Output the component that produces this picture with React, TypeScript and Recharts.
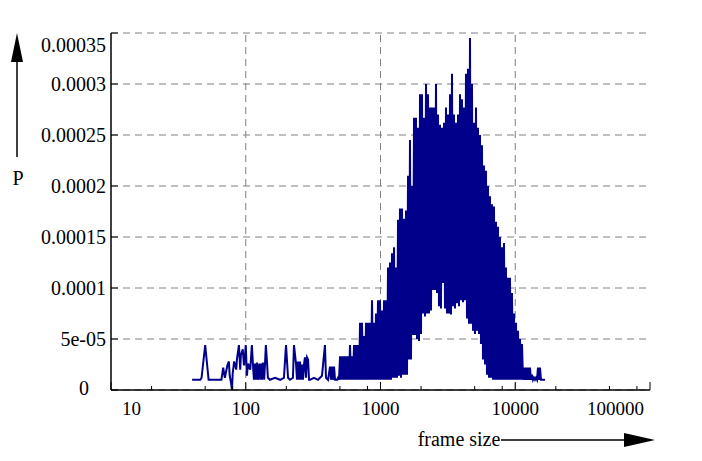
import { LineChart, Line, XAxis, YAxis, CartesianGrid, ReferenceLine } from 'recharts';

const SERIF = "'Liberation Serif', 'DejaVu Serif', serif";
const NAVY = '#00008b';
const GRID = '#808080';

// sparse left tail of the distribution (frame size, probability)
const tailSizes = [
  40, 46, 47, 50, 53, 59, 66, 68, 70, 73, 75, 76, 78, 79, 80, 82, 85, 86, 89, 91,
  92, 95, 97, 99, 100, 102, 104, 108, 111, 113, 115, 117, 119, 121, 123, 126, 128, 130, 132,
  134, 137, 139, 141, 144, 146, 151, 165, 180, 192, 199, 206, 213, 224, 228,
  236, 240, 244, 249, 253, 257, 262, 266, 271, 275, 280, 285, 290, 295,
  300, 321, 344, 368, 387, 394, 408,
];
const tailProbs = [
  10e-6, 10e-6, 12e-6, 44e-6, 10e-6, 10e-6, 10e-6, 22e-6, 12e-6, 24e-6, 28e-6, 14e-6, 6e-6, 0, 16e-6, 28e-6, 20e-6, 30e-6, 44e-6, 20e-6,
  34e-6, 40e-6, 24e-6, 36e-6, 44e-6, 14e-6, 26e-6, 20e-6, 44e-6, 26e-6, 10e-6, 26e-6, 10e-6, 27e-6, 10e-6, 26e-6, 10e-6, 26e-6, 10e-6,
  27e-6, 10e-6, 26e-6, 44e-6, 26e-6, 12e-6, 10e-6, 12e-6, 10e-6, 12e-6, 44e-6, 12e-6, 10e-6, 12e-6, 44e-6,
  26e-6, 10e-6, 28e-6, 10e-6, 28e-6, 10e-6, 25e-6, 10e-6, 26e-6, 32e-6, 12e-6, 32e-6, 30e-6, 10e-6,
  10e-6, 12e-6, 10e-6, 14e-6, 44e-6, 12e-6, 10e-6,
];

// dense body of the distribution
const bulkSizes = [
  422, 429, 437, 444, 452, 460, 468, 476, 484, 492,
  501, 509, 518, 527, 536, 545, 555, 564, 574, 584,
  594, 604, 615, 625, 636, 647, 658, 669, 681, 693,
  705, 717, 729, 742, 754, 767, 781, 794, 808, 822,
  836, 850, 865, 880, 895, 910, 926, 942, 958, 975,
  992, 1009, 1026, 1044, 1062, 1080, 1099, 1118, 1137, 1156,
  1176, 1197, 1217, 1238, 1260, 1281, 1303, 1326, 1349, 1372,
  1395, 1419, 1444, 1469, 1494, 1520, 1546, 1573, 1600, 1627,
  1655, 1684, 1713, 1742, 1773, 1803, 1834, 1866, 1898, 1931,
  1964, 1998, 2032, 2067, 2103, 2139, 2176, 2213, 2252, 2290,
  2330, 2370, 2411, 2452, 2495, 2538, 2581, 2626, 2671, 2717,
  2764, 2811, 2860, 2909, 2959, 3010, 3062, 3115, 3169, 3223,
  3279, 3335, 3393, 3451, 3511, 3571, 3633, 3695, 3759, 3824,
  3890, 3957, 4025, 4094, 4165, 4236, 4309, 4384, 4459, 4536,
  4614, 4694, 4775, 4857, 4941, 5026, 5112, 5200, 5290, 5381,
  5474, 5568, 5664, 5761, 5861, 5962, 6065, 6169, 6275, 6383,
  6494, 6605, 6719, 6835, 6953, 7073, 7194, 7318, 7445, 7573,
  7703, 7836, 7971, 8108, 8248, 8390, 8535, 8682, 8831, 8983,
  9139, 9296, 9456, 9619, 9785, 9958, 10129, 10304, 10481, 10662,
  10845, 11032, 11222, 11415, 11612, 11812, 12016, 12223, 12433, 12647,
  12865, 13087, 13312, 13541, 13775, 14013, 14254, 14500, 14750, 15004,
  15261, 15524, 15792, 16064, 16340, 16623,
];
const bulkProbs = [
  23e-6, 10e-6, 23e-6, 10e-6, 23e-6, 10e-6, 10e-6, 10e-6, 12e-6, 10e-6,
  33e-6, 10e-6, 33e-6, 10e-6, 33e-6, 10e-6, 33e-6, 10e-6, 33e-6, 10e-6,
  44e-6, 10e-6, 33e-6, 10e-6, 44e-6, 10e-6, 44e-6, 10e-6, 44e-6, 10e-6,
  66e-6, 10e-6, 66e-6, 10e-6, 53e-6, 10e-6, 66e-6, 10e-6, 66e-6, 10e-6,
  66e-6, 10e-6, 88e-6, 10e-6, 66e-6, 10e-6, 75e-6, 10e-6, 88e-6, 10e-6,
  88e-6, 10e-6, 78e-6, 10e-6, 88e-6, 10e-6, 88e-6, 10e-6, 120e-6, 10e-6,
  125e-6, 10e-6, 134e-6, 12e-6, 140e-6, 12e-6, 120e-6, 12e-6, 167e-6, 14e-6,
  178e-6, 12e-6, 178e-6, 15e-6, 168e-6, 15e-6, 176e-6, 15e-6, 210e-6, 30e-6,
  245e-6, 30e-6, 200e-6, 54e-6, 267e-6, 54e-6, 267e-6, 50e-6, 257e-6, 48e-6,
  290e-6, 55e-6, 290e-6, 75e-6, 267e-6, 72e-6, 300e-6, 75e-6, 290e-6, 75e-6,
  277e-6, 78e-6, 277e-6, 98e-6, 277e-6, 98e-6, 300e-6, 95e-6, 270e-6, 82e-6,
  260e-6, 80e-6, 257e-6, 105e-6, 262e-6, 80e-6, 277e-6, 75e-6, 270e-6, 75e-6,
  290e-6, 74e-6, 310e-6, 82e-6, 270e-6, 80e-6, 262e-6, 85e-6, 270e-6, 82e-6,
  290e-6, 88e-6, 285e-6, 86e-6, 277e-6, 88e-6, 310e-6, 70e-6, 315e-6, 65e-6,
  345e-6, 65e-6, 300e-6, 58e-6, 262e-6, 55e-6, 277e-6, 58e-6, 257e-6, 55e-6,
  250e-6, 45e-6, 240e-6, 30e-6, 220e-6, 25e-6, 215e-6, 15e-6, 200e-6, 12e-6,
  190e-6, 12e-6, 182e-6, 10e-6, 180e-6, 10e-6, 165e-6, 10e-6, 160e-6, 10e-6,
  150e-6, 10e-6, 140e-6, 10e-6, 144e-6, 10e-6, 120e-6, 10e-6, 110e-6, 10e-6,
  110e-6, 10e-6, 95e-6, 10e-6, 75e-6, 10e-6, 66e-6, 10e-6, 58e-6, 10e-6,
  50e-6, 10e-6, 45e-6, 10e-6, 22e-6, 10e-6, 22e-6, 10e-6, 22e-6, 10e-6,
  22e-6, 10e-6, 15e-6, 10e-6, 12e-6, 10e-6, 12e-6, 10e-6, 22e-6, 10e-6,
  22e-6, 10e-6, 10e-6, 10e-6, 10e-6, 10e-6,
];

const xTicks = [10, 20, 50, 80, 100, 200, 500, 800, 1000, 2000, 5000, 8000, 10000, 20000, 50000, 80000, 100000];
const xMajor = [10, 100, 1000, 10000, 100000];
const xMajorLabels = ['10', '100', '1000', '10000', '100000'];
const xGridLines = [100, 1000, 10000];
const yTicks = [0, 0.00005, 0.0001, 0.00015, 0.0002, 0.00025, 0.0003, 0.00035];
const yTickLabels = ['0', '5e-05', '0.0001', '0.00015', '0.0002', '0.00025', '0.0003', '0.00035'];

const allSizes = [...tailSizes, ...bulkSizes];
const allProbs = [...tailProbs, ...bulkProbs];
const data = allSizes.map((x, i) => ({ x, p: allProbs[i] }));

const axisLine = { stroke: '#000', strokeWidth: 1.5 };

function BottomTick({ x, y, payload }: any) {
  const v = payload.value;
  const k = xMajor.indexOf(v);
  const major = k >= 0;
  let anchor: any = 'middle';
  let tx = x;
  if (v === 10) { anchor = 'start'; tx = x + 11; }
  if (v === 100000) { anchor = 'end'; tx = x - 6; }
  return (
    <g>
      <line x1={x} x2={x} y1={y} y2={y - (major ? 8 : 4)} stroke="#000" strokeWidth={1} />
      {major && (
        <text x={tx} y={y + 25} textAnchor={anchor} fontSize={19} fontFamily={SERIF} fill="#000">
          {xMajorLabels[k]}
        </text>
      )}
    </g>
  );
}

function TopTick({ x, y, payload }: any) {
  const major = xMajor.includes(payload.value);
  return <line x1={x} x2={x} y1={y} y2={y + (major ? 8 : 4)} stroke="#000" strokeWidth={1} />;
}

function LeftTick({ x, y, payload }: any) {
  const v = payload.value;
  const label = yTickLabels[yTicks.indexOf(v)];
  let tx = x - 5;
  let ty = y + 7;
  if (v === 0) { tx = x - 22; ty = y + 5; }
  if (v === 0.00035) { ty = y + 19; }
  return (
    <g>
      <line x1={x} x2={x + 7} y1={y} y2={y} stroke="#000" strokeWidth={1} />
      <text x={tx} y={ty} textAnchor="end" fontSize={20} fontFamily={SERIF} fill="#000">
        {label}
      </text>
    </g>
  );
}

function RightTick({ x, y }: any) {
  return <line x1={x} x2={x - 7} y1={y} y2={y} stroke="#000" strokeWidth={1} />;
}

export default function App() {
  return (
    <div style={{ position: 'absolute', left: 0, top: 0, width: 702, height: 461, background: '#fff', fontFamily: SERIF }}>
      <LineChart width={702} height={461} data={data} margin={{ top: 33, right: 52, bottom: 41, left: 0 }}>
        <CartesianGrid xAxisId="top" yAxisId="left" vertical={false} stroke={GRID} strokeDasharray="7 5" strokeWidth={1} />
        <XAxis xAxisId="top" orientation="top" dataKey="x" type="number" scale="log" domain={[10, 100000]}
          ticks={xTicks} interval={0} tick={<TopTick />} tickLine={false} tickSize={0} tickMargin={0}
          axisLine={axisLine} height={0} allowDataOverflow />
        <XAxis xAxisId="bottom" dataKey="x" type="number" scale="log" domain={[10, 100000]}
          ticks={xTicks} interval={0} tick={<BottomTick />} tickLine={false} tickSize={0} tickMargin={0}
          axisLine={axisLine} height={30} allowDataOverflow />
        <YAxis yAxisId="left" type="number" domain={[0, 0.00035]} ticks={yTicks} interval={0}
          tick={<LeftTick />} tickLine={false} tickSize={0} tickMargin={0} axisLine={axisLine} width={111} allowDataOverflow />
        <YAxis yAxisId="right" orientation="right" type="number" domain={[0, 0.00035]} ticks={yTicks} interval={0}
          tick={<RightTick />} tickLine={false} tickSize={0} tickMargin={0} axisLine={axisLine} width={0} allowDataOverflow />
        {xGridLines.map((v) => (
          <ReferenceLine key={v} x={v} xAxisId="bottom" yAxisId="left" stroke={GRID} strokeDasharray="7 5" strokeWidth={1} />
        ))}
        <Line xAxisId="bottom" yAxisId="left" type="linear" dataKey="p" stroke={NAVY} strokeWidth={2}
          dot={false} activeDot={false} isAnimationActive={false} />
      </LineChart>
      <svg width={702} height={461} style={{ position: 'absolute', left: 0, top: 0, pointerEvents: 'none' }}>
        <line x1={17} x2={17} y1={60} y2={157} stroke="#000" strokeWidth={1.5} />
        <polygon points="17,33 11,62 23,62" fill="#000" />
        <text x={18} y={185} textAnchor="middle" fontSize={20} fontFamily={SERIF} fill="#000">P</text>
        <text x={459} y={446} textAnchor="middle" fontSize={20} fontFamily={SERIF} fill="#000">frame size</text>
        <line x1={501} x2={628} y1={440} y2={440} stroke="#000" strokeWidth={1.5} />
        <polygon points="655,440 624,433 624,447" fill="#000" />
      </svg>
    </div>
  );
}
